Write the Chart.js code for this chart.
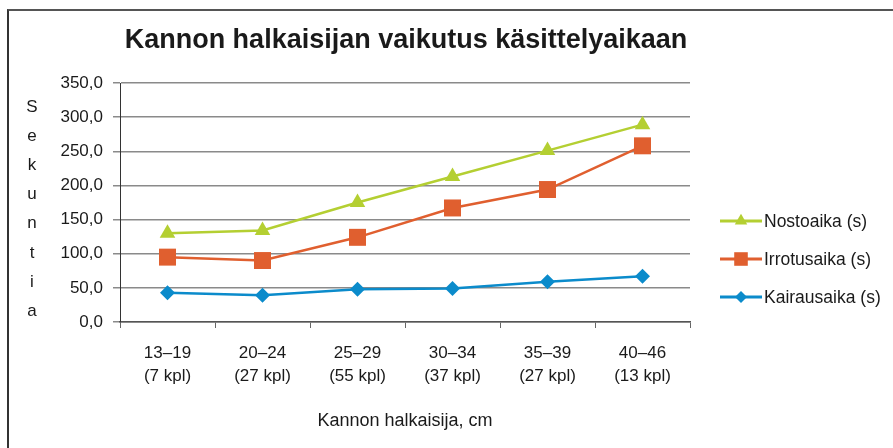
<!DOCTYPE html>
<html>
<head>
<meta charset="utf-8">
<script src="https://cdn.jsdelivr.net/npm/chart.js@4"></script>
<style>
  html, body { margin: 0; padding: 0; background: #fff; }
  #wrap { position: relative; width: 893px; height: 448px; overflow: hidden; }
  #frame { position: absolute; left: 7px; top: 9px; width: 900px; height: 460px;
           border-top: 2px solid #555; border-left: 2px solid #333; pointer-events: none; }
</style>
</head>
<body>
<div id="wrap">
  <canvas id="kaavio" width="893" height="448"></canvas>
  <div id="frame"></div>
</div>
<script>
// luokat (kannon halkaisija ja kappalemäärä)
const luokat = [
  ["13–19", "(7 kpl)"],
  ["20–24", "(27 kpl)"],
  ["25–29", "(55 kpl)"],
  ["30–34", "(37 kpl)"],
  ["35–39", "(27 kpl)"],
  ["40–46", "(13 kpl)"]
];

// sekunteja
const nostoaika = [130, 134, 175, 213, 251, 289];
const irrotusaika = [95, 90, 124, 167, 194, 258];
const kairausaika = [43, 39, 48, 49, 59, 67];

const otsikko = "Kannon halkaisijan vaikutus käsittelyaikaan";
const yOtsikko = "Sekuntia";
const xOtsikko = "Kannon halkaisija, cm";

const fontti = "'Liberation Sans', Arial, sans-serif";

// otsikko, pystyteksti ja selite piirretään itse
const omatPiirrot = {
  id: "omatPiirrot",
  afterDraw(chart) {
    const ctx = chart.ctx;
    ctx.save();
    ctx.fillStyle = "#1a1a1a";
    ctx.textAlign = "center";
    ctx.textBaseline = "middle";
    ctx.font = "bold 27px " + fontti;
    ctx.fillText(otsikko, 406, 41);

    ctx.font = "17px " + fontti;
    for (let i = 0; i < yOtsikko.length; i++) {
      ctx.fillText(yOtsikko[i], 32, 107 + i * 29.2);
    }

    // selite
    const selitteet = chart.data.datasets;
    ctx.textAlign = "left";
    ctx.font = "17.5px " + fontti;
    for (let i = 0; i < selitteet.length; i++) {
      const ds = selitteet[i];
      const y = 221 + i * 38;
      ctx.strokeStyle = ds.borderColor;
      ctx.lineWidth = 3;
      ctx.beginPath();
      ctx.moveTo(720, y);
      ctx.lineTo(762, y);
      ctx.stroke();
      ctx.fillStyle = ds.backgroundColor;
      Chart.helpers.drawPoint(ctx, {
        pointStyle: ds.pointStyle,
        radius: ds.pointRadius * 0.8,
        rotation: 0,
        borderWidth: 0
      }, 741, y);
      ctx.fillStyle = "#1a1a1a";
      ctx.fillText(ds.label, 764, y + 1);
    }
    ctx.restore();
  }
};

new Chart(document.getElementById("kaavio"), {
  type: "line",
  data: {
    labels: luokat,
    datasets: [
      {
        label: "Nostoaika (s)",
        data: nostoaika,
        borderColor: "#b4cf32",
        backgroundColor: "#b4cf32",
        pointStyle: "triangle",
        pointRadius: 9
      },
      {
        label: "Irrotusaika (s)",
        data: irrotusaika,
        borderColor: "#e05f2f",
        backgroundColor: "#e05f2f",
        pointStyle: "rect",
        pointRadius: 12
      },
      {
        label: "Kairausaika (s)",
        data: kairausaika,
        borderColor: "#0b8bcb",
        backgroundColor: "#0b8bcb",
        pointStyle: "rectRot",
        pointRadius: 7.5
      }
    ]
  },
  options: {
    responsive: false,
    animation: false,
    devicePixelRatio: 1,
    layout: { padding: { top: 83, right: 203, bottom: 0, left: 0 } },
    elements: {
      line: { borderWidth: 2.5, tension: 0 },
      point: { borderWidth: 0 }
    },
    plugins: {
      legend: { display: false },
      title: { display: false },
      tooltip: { enabled: false }
    },
    scales: {
      x: {
        offset: true,
        afterFit(scale) { scale.height = 126; },
        grid: { offset: true, drawOnChartArea: false, tickLength: 6, color: "#666" },
        border: { color: "#555", width: 1.5 },
        ticks: { color: "#1a1a1a", padding: 14, font: { family: fontti, size: 17, lineHeight: 1.35 }, maxRotation: 0 },
        title: { display: true, text: xOtsikko, color: "#1a1a1a", font: { family: fontti, size: 18 }, padding: { top: 0, bottom: 16 } }
      },
      y: {
        min: 0,
        max: 350,
        afterFit(scale) { scale.width = 120; },
        grid: { color: "#8a8a8a", lineWidth: 1.5, tickLength: 7 },
        border: { color: "#333", width: 1 },
        ticks: {
          stepSize: 50,
          color: "#1a1a1a",
          padding: 10,
          font: { family: fontti, size: 17 },
          callback: (v) => v.toFixed(1).replace(".", ",")
        }
      }
    }
  },
  plugins: [omatPiirrot]
});
</script>
</body>
</html>
